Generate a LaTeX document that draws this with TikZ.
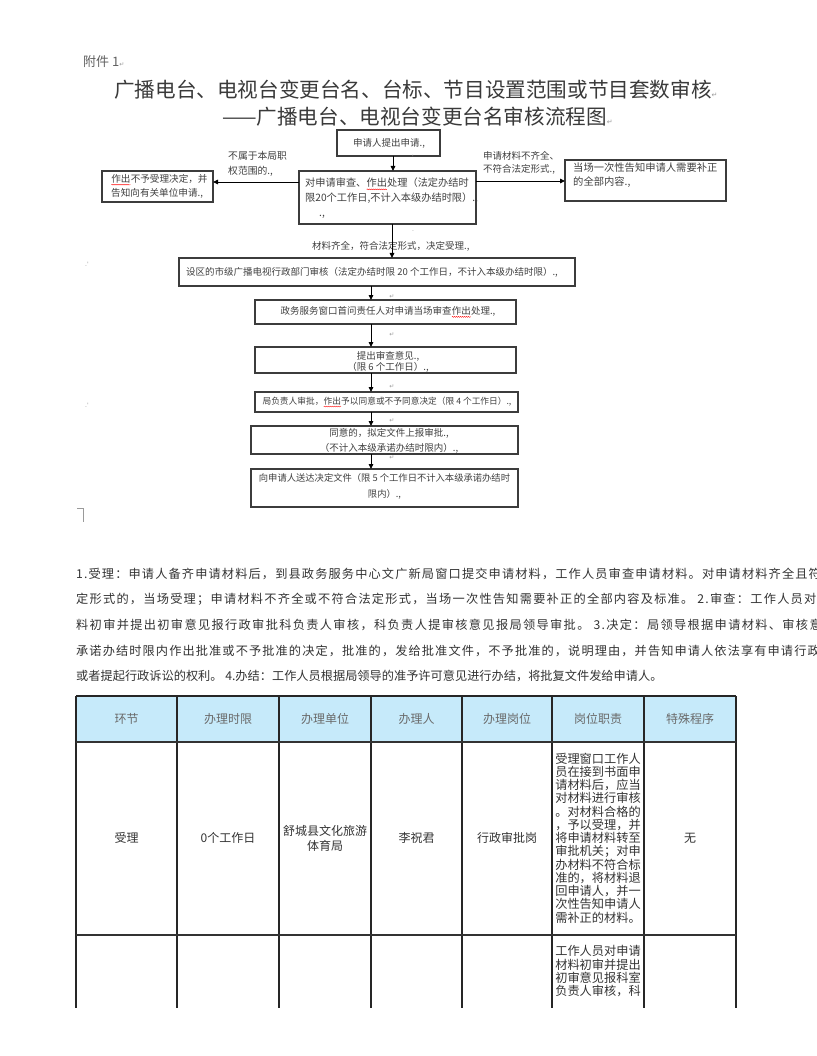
\documentclass[tikz,border=0pt]{standalone}
\usepackage{fontspec}
\setmainfont{Noto Sans CJK SC}
\newfontfamily\symf{DejaVu Sans}
\newfontfamily\plA{Noto Sans CJK SC}[LetterSpace=9.3]
\newfontfamily\plB{Noto Sans CJK SC}[LetterSpace=10.2]
\newfontfamily\plC{Noto Sans CJK SC}[LetterSpace=11]
\newfontfamily\plD{Noto Sans CJK SC}[LetterSpace=9]
\usetikzlibrary{arrows.meta,decorations.pathmorphing}
\definecolor{boxline}{HTML}{3C3C3C}
\definecolor{txtg}{HTML}{404040}
\definecolor{titleg}{HTML}{3A3A3A}
\definecolor{hdrblue}{HTML}{C6EAFA}
\definecolor{markg}{HTML}{9A9A9A}
\definecolor{hdrtxt}{HTML}{6A6A6A}
\definecolor{bodytxt}{HTML}{333333}
\newcommand\wv[1]{\tikz[baseline=(wv.base)]{\node[inner sep=0pt,outer sep=0pt,anchor=base](wv){#1};\draw[red,line width=0.35pt,decorate,decoration={snake,amplitude=0.45pt,segment length=2pt}]([yshift=-1.6pt]wv.south west)--([yshift=-1.6pt]wv.south east);}}
\begin{document}
\begin{tikzpicture}[x=1pt,y=-1pt,
  box/.style={draw=boxline,line width=1.1pt,inner sep=0pt,outer sep=0pt},
  ft/.style={inner sep=0pt,text=txtg,font=\fontsize{9.5}{11}\selectfont},
  arr/.style={draw=black,line width=0.9pt,-{Triangle[length=5pt,width=4.5pt]}},
  pm/.style={inner sep=0pt,text=markg,font=\symf\fontsize{6}{6}\selectfont},
  para/.style={inner sep=0pt,anchor=west,text=bodytxt},
  tl/.style={draw=black!85,line width=1.1pt},
  tlh/.style={draw=black!80,line width=1.8pt},
  hd/.style={inner sep=0pt,text=hdrtxt,font=\fontsize{12}{14}\selectfont},
  cell/.style={inner sep=0pt,text=bodytxt,font=\fontsize{12}{14.5}\selectfont,align=center},
]
\useasboundingbox (0,0) rectangle (816,1056);
\fill[white] (0,0) rectangle (816,1056);
\clip (0,0) rectangle (816,1056);

% header
\node[inner sep=0pt,anchor=west,text=titleg!80,font=\fontsize{13}{15}\selectfont] (att) at (83,62) {附件 1{\symf\fontsize{6}{6}\selectfont\color{markg}↵}};
\node[inner sep=0pt,anchor=west,text=titleg,font=\fontsize{20.6}{24}\selectfont] (ti1) at (114,90) {广播电台、电视台变更台名、台标、节目设置范围或节目套数审核{\symf\fontsize{7}{7}\selectfont\color{markg}↵}};
\node[inner sep=0pt,anchor=west,text=titleg,font=\fontsize{20.6}{24}\selectfont] (ti2) at (222,117) {——广播电台、电视台变更台名审核流程图{\symf\fontsize{7}{7}\selectfont\color{markg}↵}};

% boxes
\node[box,minimum width=103pt,minimum height=26pt] (b1) at (388.5,143) {};
\node[box,minimum width=177pt,minimum height=53pt] (b2) at (387.5,197.5) {};
\node[box,minimum width=111pt,minimum height=31pt] (bl) at (157.5,186.5) {};
\node[box,minimum width=161pt,minimum height=41pt] (br) at (645.5,180.5) {};
\node[box,minimum width=396pt,minimum height=28pt] (b3) at (377,272) {};
\node[box,minimum width=261pt,minimum height=24pt] (b4) at (385.5,312) {};
\node[box,minimum width=261pt,minimum height=26pt] (b5) at (385.5,360) {};
\node[box,minimum width=263pt,minimum height=20pt] (b6) at (386.5,402) {};
\node[box,minimum width=267pt,minimum height=28pt] (b7) at (384.5,440) {};
\node[box,minimum width=267pt,minimum height=38pt] (b8) at (384.5,488) {};

% box texts
\node[ft] (t1) at (389,143) {申请人提出申请.,};
\node[ft,anchor=north west,align=left,font=\fontsize{10.2}{15}\selectfont] (t2) at (305,178) {对申请审查、\wv{作出}处理（法定办结时\\限20个工作日,不计入本级办结时限）.,\\\hspace{14pt}.,};
\node[ft,anchor=north west,align=left,font=\fontsize{9.6}{14}\selectfont] (tl) at (111,174) {\wv{作出}不予受理决定，并\\告知向有关单位申请.,};
\node[ft,anchor=north west,align=left,font=\fontsize{10.3}{13.5}\selectfont] (tr) at (573,163) {当场一次性告知申请人需要补正\\的全部内容.,};
\node[ft,anchor=west] (t3) at (186,272) {设区的市级广播电视行政部门审核（法定办结时限 20 个工作日，不计入本级办结时限）.,};
\node[ft] (t4) at (388,312) {政务服务窗口首问责任人对申请当场审查\wv{作出}处理.,};
\node[ft,align=center] (t5) at (388,361.5) {提出审查意见.,\\（限 6 个工作日）.,};
\node[ft,font=\fontsize{8.7}{10}\selectfont] (t6) at (387,402) {局负责人审批，\wv{作出}予以同意或不予同意决定（限 4 个工作日）.,};
\node[ft,align=center,font=\fontsize{9.5}{15}\selectfont] (t7) at (389,440.5) {同意的，拟定文件上报审批.,\\（不计入本级承诺办结时限内）.,};
\node[ft,align=center,font=\fontsize{9.3}{16}\selectfont] (t8) at (384.5,486) {向申请人送达决定文件（限 5 个工作日不计入本级承诺办结时\\限内）.,};

% labels
\node[ft,anchor=north west,align=left,font=\fontsize{9.8}{15.5}\selectfont] (lb1) at (228,151) {不属于本局职\\权范围的.,};
\node[ft,anchor=north west,align=left,font=\fontsize{9.5}{13.5}\selectfont] (lb2) at (483,151) {申请材料不齐全、\\不符合法定形式.,};
\node[ft,anchor=west] (lb3) at (312,246) {材料齐全，符合法定形式，决定受理.,};

% connectors
\coordinate (xa) at (393,0);
\coordinate (xb) at (392,0);
\coordinate (xc) at (371,0);
\coordinate (yl) at (0,182);
\coordinate (yr) at (0,181);
\draw[arr] (b1.south -| xa) -- (b2.north -| xa);
\draw[arr] (b2.west |- yl) -- (bl.east |- yl);
\draw[arr] (b2.east |- yr) -- (br.west |- yr);
\draw[arr] (b2.south -| xb) -- (b3.north -| xb);
\draw[arr] (b3.south -| xc) -- (b4.north -| xc);
\draw[arr] (b4.south -| xc) -- (b5.north -| xc);
\draw[arr] (b5.south -| xc) -- (b6.north -| xc);
\draw[arr] (b6.south -| xc) -- (b7.north -| xc);
\draw[arr] (b7.south -| xc) -- (b8.north -| xc);

% paragraph marks
\node[pm] (m1) at (392,297) {↵};
\node[pm] (m2) at (392,335) {↵};
\node[pm] (m3) at (392,387) {↵};
\node[pm] (m4) at (392,421) {↵};
\node[pm] (m5) at (392,458) {↵};
\node[pm] (m6) at (413,157) {'};
\node[pm] (m7) at (413,231) {.};
\node[pm] (m8) at (87,264) {.'};
\node[pm] (m9) at (87,405) {.'};
\draw[markg,line width=0.7pt] (77,508) -- (83,508) -- (83,522);

% paragraph
\node[para,font=\plA\fontsize{12.2}{14}\selectfont] (p1) at (76,574) {1.受理：申请人备齐申请材料后，到县政务服务中心文广新局窗口提交申请材料，工作人员审查申请材料。对申请材料齐全且符};
\node[para,font=\plB\fontsize{12.2}{14}\selectfont] (p2) at (76,599.5) {定形式的，当场受理；申请材料不齐全或不符合法定形式，当场一次性告知需要补正的全部内容及标准。 2.审查：工作人员对};
\node[para,font=\plC\fontsize{12.2}{14}\selectfont] (p3) at (76,625) {料初审并提出初审意见报行政审批科负责人审核，科负责人提审核意见报局领导审批。 3.决定：局领导根据申请材料、审核意};
\node[para,font=\plD\fontsize{12.2}{14}\selectfont] (p4) at (76,650.5) {承诺办结时限内作出批准或不予批准的决定，批准的，发给批准文件，不予批准的，说明理由，并告知申请人依法享有申请行政};
\node[para,font=\fontsize{12.2}{14}\selectfont] (p5) at (76,676) {或者提起行政诉讼的权利。 4.办结：工作人员根据局领导的准予许可意见进行办结，将批复文件发给申请人。};

% table
\fill[hdrblue] (76,696) rectangle (736,742);
\foreach \cx in {76,177,279,371,462,552,644,736} {
  \draw[tl] (\cx,696) -- (\cx,1008);
}
\draw[tl] (76,696) -- (736,696);
\draw[tlh] (76,742) -- (736,742);
\draw[tlh] (76,935) -- (736,935);

\node[hd] (h1) at (126.5,719) {环节};
\node[hd] (h2) at (228,719) {办理时限};
\node[hd] (h3) at (325,719) {办理单位};
\node[hd] (h4) at (416.5,719) {办理人};
\node[hd] (h5) at (507,719) {办理岗位};
\node[hd] (h6) at (598,719) {岗位职责};
\node[hd] (h7) at (690,719) {特殊程序};

\node[cell] (c11) at (126.5,838) {受理};
\node[cell] (c12) at (228,838) {0个工作日};
\node[cell,font=\fontsize{12}{15}\selectfont] (c13) at (325,838) {舒城县文化旅游\\体育局};
\node[cell] (c14) at (416.5,838) {李祝君};
\node[cell] (c15) at (507,838) {行政审批岗};
\node[cell,align=left,font=\fontsize{12.2}{13.25}\selectfont] (c16) at (598,838) {受理窗口工作人\\员在接到书面申\\请材料后，应当\\对材料进行审核\\。对材料合格的\\，予以受理，并\\将申请材料转至\\审批机关；对申\\办材料不符合标\\准的，将材料退\\回申请人，并一\\次性告知申请人\\需补正的材料。};
\node[cell] (c17) at (690,838) {无};
\node[cell,align=left,anchor=north,font=\fontsize{12.2}{13.25}\selectfont] (c26) at (598,945.5) {工作人员对申请\\材料初审并提出\\初审意见报科室\\负责人审核，科};
\end{tikzpicture}
\end{document}
